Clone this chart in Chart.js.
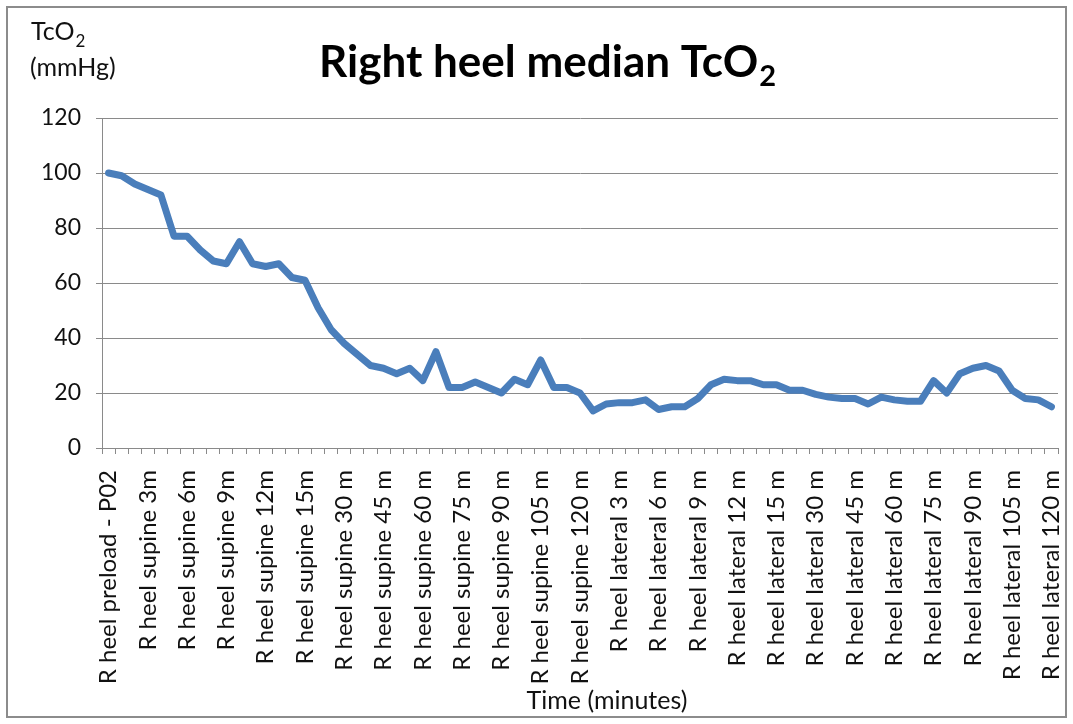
<!DOCTYPE html>
<html>
<head>
<meta charset="utf-8">
<script src="https://cdn.jsdelivr.net/npm/chart.js@4"></script>
<style>
html,body{margin:0;padding:0;background:#fff;}
#wrap{position:relative;width:1073px;height:724px;}
canvas{display:block;}
</style>
</head>
<body>
<div id="wrap"><canvas id="c" width="1073" height="724"></canvas></div>
<script>
const categories = [
  "R heel preload - P02",
  "R heel supine 1m","R heel supine 2m","R heel supine 3m","R heel supine 4m","R heel supine 5m",
  "R heel supine 6m","R heel supine 7m","R heel supine 8m","R heel supine 9m","R heel supine 10m",
  "R heel supine 11m","R heel supine 12m","R heel supine 13m","R heel supine 14m","R heel supine 15m",
  "R heel supine 20 m","R heel supine 25 m","R heel supine 30 m","R heel supine 35 m","R heel supine 40 m",
  "R heel supine 45 m","R heel supine 50 m","R heel supine 55 m","R heel supine 60 m","R heel supine 65 m",
  "R heel supine 70 m","R heel supine 75 m","R heel supine 80 m","R heel supine 85 m","R heel supine 90 m",
  "R heel supine 95 m","R heel supine 100 m","R heel supine 105 m","R heel supine 110 m","R heel supine 115 m",
  "R heel supine 120 m",
  "R heel lateral 1 m","R heel lateral 2 m","R heel lateral 3 m","R heel lateral 4 m","R heel lateral 5 m",
  "R heel lateral 6 m","R heel lateral 7 m","R heel lateral 8 m","R heel lateral 9 m","R heel lateral 10 m",
  "R heel lateral 11 m","R heel lateral 12 m","R heel lateral 13 m","R heel lateral 14 m","R heel lateral 15 m",
  "R heel lateral 20 m","R heel lateral 25 m","R heel lateral 30 m","R heel lateral 35 m","R heel lateral 40 m",
  "R heel lateral 45 m","R heel lateral 50 m","R heel lateral 55 m","R heel lateral 60 m","R heel lateral 65 m",
  "R heel lateral 70 m","R heel lateral 75 m","R heel lateral 80 m","R heel lateral 85 m","R heel lateral 90 m",
  "R heel lateral 95 m","R heel lateral 100 m","R heel lateral 105 m","R heel lateral 110 m","R heel lateral 115 m",
  "R heel lateral 120 m"
];
const medianTcO2 = [
  100,99,96,94,92,77,77,72,68,67,
  75,67,66,67,62,61,51,43,38,34,
  30,29,27,29,24.5,35,22,22,24,22,
  20,25,23,32,22,22,20,13.5,16,16.5,
  16.5,17.5,14,15,15,18,23,25,24.5,24.5,
  23,23,21,21,19.5,18.5,18,18,16,18.5,
  17.5,17,17,24.5,20,27,29,30,28,21,
  18,17.5,15
];
const yTicks = [0,20,40,60,80,100,120];
const titleMain = "Right heel median TcO";
const titleSub = "2";
const yTitleMain = "TcO";
const yTitleSub = "2";
const yTitleUnit = "(mmHg)";
const xTitle = "Time (minutes)";
const labelEvery = 3;

const FONT = "Lato, 'Open Sans', sans-serif";
const GRID = '#8a8a8a';
const TXT = '#111';

const decor = {
  id: 'decor',
  beforeDraw(chart) {
    const ctx = chart.ctx;
    ctx.save();
    ctx.fillStyle = '#fff';
    ctx.fillRect(0, 0, chart.width, chart.height);
    ctx.strokeStyle = '#8c8c8c';
    ctx.lineWidth = 2;
    ctx.strokeRect(7, 7, 1059, 710);
    ctx.restore();
  },
  afterDraw(chart) {
    const ctx = chart.ctx;
    ctx.save();
    ctx.fillStyle = '#000';
    ctx.textBaseline = 'alphabetic';
    // title
    ctx.font = "bold 44px " + FONT;
    const w1 = ctx.measureText(titleMain).width;
    ctx.font = "bold 29px " + FONT;
    const w2 = ctx.measureText(titleSub).width;
    const x0 = 547 - (w1 + w2) / 2;
    ctx.font = "bold 44px " + FONT;
    ctx.textAlign = 'left';
    ctx.fillText(titleMain, x0, 77);
    ctx.font = "bold 29px " + FONT;
    ctx.fillText(titleSub, x0 + w1 + 1, 86);
    // y title
    ctx.fillStyle = TXT;
    ctx.font = "25px " + FONT;
    ctx.fillText(yTitleMain, 31, 40);
    const wy = ctx.measureText(yTitleMain).width;
    ctx.font = "17px " + FONT;
    ctx.fillText(yTitleSub, 31 + wy + 1, 47);
    ctx.font = "25px " + FONT;
    ctx.fillText(yTitleUnit, 30, 76);
    // x title
    ctx.textAlign = 'center';
    ctx.fillText(xTitle, 607, 709);
    ctx.restore();
  }
};

new Chart(document.getElementById('c'), {
  type: 'line',
  data: {
    labels: categories,
    datasets: [{
      label: 'Right heel median TcO2',
      data: medianTcO2,
      borderColor: '#4a7ebb',
      backgroundColor: '#4a7ebb',
      borderWidth: 7,
      borderJoinStyle: 'round',
      borderCapStyle: 'round',
      tension: 0,
      pointRadius: 0,
      pointHoverRadius: 0,
      fill: false
    }]
  },
  options: {
    responsive: false,
    animation: false,
    devicePixelRatio: 1,
    layout: { padding: { top: 118, right: 15, left: 0, bottom: 0 } },
    plugins: {
      legend: { display: false },
      title: { display: false },
      tooltip: { enabled: false }
    },
    scales: {
      x: {
        type: 'category',
        offset: true,
        afterFit(scale) { scale.height = 276; scale.paddingLeft = 0; scale.paddingRight = 0; },
        grid: {
          display: true,
          offset: true,
          drawOnChartArea: false,
          drawTicks: true,
          tickLength: 6,
          color: GRID,
          lineWidth: 1
        },
        border: { display: true, color: GRID, width: 1 },
        ticks: {
          autoSkip: false,
          maxRotation: 90,
          minRotation: 90,
          padding: 16,
          color: TXT,
          font: { family: FONT, size: 24 },
          callback(value, index) {
            return index % labelEvery === 0 ? this.getLabelForValue(value) : '';
          }
        }
      },
      y: {
        min: 0,
        max: 120,
        afterFit(scale) { scale.width = 102; scale.paddingTop = 0; scale.paddingBottom = 0; },
        afterBuildTicks(scale) { scale.ticks = yTicks.map(v => ({ value: v })); },
        grid: {
          color: GRID,
          lineWidth: 1,
          drawTicks: true,
          tickLength: 6
        },
        border: { display: true, color: GRID, width: 1 },
        ticks: {
          padding: 15,
          color: TXT,
          font: { family: FONT, size: 23 }
        }
      }
    }
  },
  plugins: [decor]
});
</script>
</body>
</html>
